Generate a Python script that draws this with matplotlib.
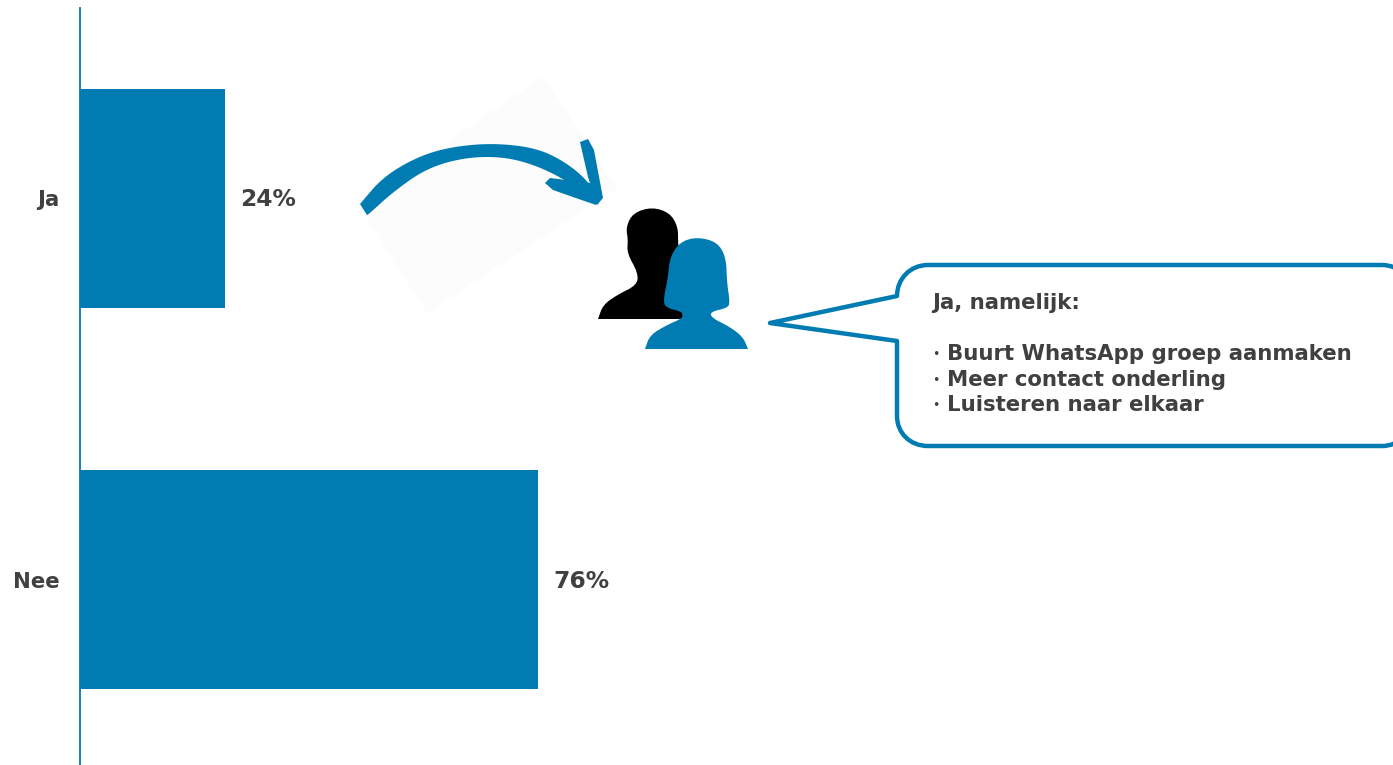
import matplotlib
matplotlib.use("Agg")
import matplotlib.pyplot as plt
from matplotlib.patches import PathPatch, Polygon
from matplotlib.path import Path

BLUE = "#007cb2"
TEXT = "#404040"
W, H = 1393, 765

categories = ["Ja", "Nee"]
values = [24, 76]
value_labels = ["24%", "76%"]
callout_title = "Ja, namelijk:"
callout_items = ["Buurt WhatsApp groep aanmaken", "Meer contact onderling", "Luisteren naar elkaar"]

plt.rcParams["font.family"] = ["DejaVu Sans"]


def smooth(pts, n=3):
    # chaikin corner cutting, keeps the end points
    for _ in range(n):
        out = [pts[0]]
        for a, b in zip(pts[:-1], pts[1:]):
            out.append((0.75 * a[0] + 0.25 * b[0], 0.75 * a[1] + 0.25 * b[1]))
            out.append((0.25 * a[0] + 0.75 * b[0], 0.25 * a[1] + 0.75 * b[1]))
        out.append(pts[-1])
        pts = out
    return pts


fig = plt.figure(figsize=(W / 100, H / 100), dpi=100, facecolor="white")

# ── bars ──
ax = fig.add_axes([80 / W, 0, 1 - 80 / W, (H - 8) / H])
bars = ax.barh(range(len(values)), values, height=0.574, color=BLUE)
ax.set_xlim(0, 217.7)
ax.set_ylim(1.485, -0.499)
ax.set_xticks([])
ax.set_yticks(range(len(categories)))
ax.set_yticklabels(categories, color=TEXT, fontsize=15.3, fontweight="bold")
ax.tick_params(axis="y", length=0, pad=15)
for name in ["top", "right", "bottom"]:
    ax.spines[name].set_visible(False)
ax.spines["left"].set_color(BLUE)
ax.spines["left"].set_linewidth(1.3)
labels = ax.bar_label(bars, labels=value_labels, padding=11, color=TEXT, fontsize=16.8, fontweight="bold")
for t in labels:
    t.xyann = (11, -1)

# ── decoration in pixel coordinates ──
deco = fig.add_axes([0, 0, 1, 1], facecolor="none")
deco.set_xlim(0, W)
deco.set_ylim(H, 0)
deco.axis("off")

# faint sheet behind the arrow
deco.add_patch(Polygon([(543, 77), (617, 188), (427, 313), (357, 203)], color="#fcfcfc", lw=0))

# hand drawn arrow
upper = [(360, 204), (383, 177), (417, 157), (450, 147), (493, 143), (537, 148), (567, 163), (590, 183), (599, 203)]
lower = [(367, 215), (370, 213), (393, 192), (427, 168), (467, 157), (507, 157), (543, 168), (577, 187), (597, 204)]
deco.add_patch(Polygon(smooth(upper) + smooth(lower)[::-1], color=BLUE, lw=0))
deco.add_patch(Polygon([(580, 142), (588, 139), (594, 150), (603, 198), (597, 205), (588, 177)], color=BLUE, lw=0))
deco.add_patch(Polygon([(545, 183), (550, 178), (590, 183), (602, 198), (596, 205), (570, 196), (553, 190)],
                       color=BLUE, lw=0))

# two people
black_person = [(598, 319), (603, 305), (617, 295), (637, 285), (638, 273), (627, 253), (628, 240), (626, 227),
                (633, 213), (652, 207), (670, 213), (678, 227), (678, 243), (683, 319)]
blue_person = [(645, 349), (650, 335), (667, 325), (683, 318), (683, 312), (667, 308), (663, 302), (668, 277),
               (670, 257), (680, 242), (697, 237), (717, 242), (726, 257), (727, 283), (730, 303), (727, 308),
               (710, 312), (712, 318), (730, 327), (743, 337), (748, 349)]
deco.add_patch(Polygon(smooth(black_person, 2), color="black", lw=0))
deco.add_patch(Polygon(smooth(blue_person, 2), color=BLUE, lw=0))

# speech bubble, runs off the right edge
verts = [(897, 296), (897, 279), (910, 265), (928, 265), (1382, 265), (1399, 265), (1412, 278), (1412, 295),
         (1412, 416), (1412, 433), (1399, 446), (1382, 446), (928, 446), (910, 446), (897, 433), (897, 416),
         (897, 341), (770, 323), (897, 296), (897, 296)]
codes = [Path.MOVETO, Path.CURVE4, Path.CURVE4, Path.CURVE4, Path.LINETO, Path.CURVE4, Path.CURVE4, Path.CURVE4,
         Path.LINETO, Path.CURVE4, Path.CURVE4, Path.CURVE4, Path.LINETO, Path.CURVE4, Path.CURVE4, Path.CURVE4,
         Path.LINETO, Path.LINETO, Path.LINETO, Path.CLOSEPOLY]
deco.add_patch(PathPatch(Path(verts, codes), facecolor="white", edgecolor=BLUE, lw=3.2, joinstyle="round"))

deco.text(932, 303, callout_title, color=TEXT, fontsize=15.3, fontweight="bold", va="center")
for y, item in zip([354, 380, 405], callout_items):
    deco.text(932, y, "•", color=TEXT, fontsize=9, va="center")
    deco.text(947, y, item, color=TEXT, fontsize=15.3, fontweight="bold", va="center")

fig.savefig("out.png", dpi=100, facecolor="white")
